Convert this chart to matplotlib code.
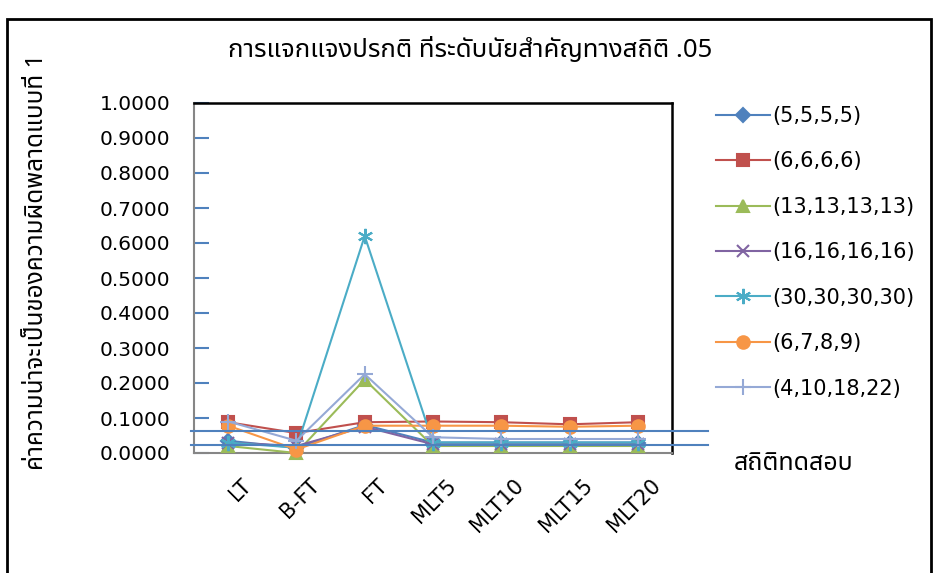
import matplotlib
matplotlib.use("Agg")
from matplotlib import pyplot as plt
from matplotlib.patches import Rectangle

THAI = ["Noto Sans Thai", "IBM Plex Sans Thai", "Sarabun", "DejaVu Sans"]

categories = ["LT", "B-FT", "FT", "MLT5", "MLT10", "MLT15", "MLT20"]
series_labels = [
    "(5,5,5,5)",
    "(6,6,6,6)",
    "(13,13,13,13)",
    "(16,16,16,16)",
    "(30,30,30,30)",
    "(6,7,8,9)",
    "(4,10,18,22)",
]
n5 = [0.035, 0.015, 0.080, 0.030, 0.030, 0.030, 0.030]
n6 = [0.088, 0.057, 0.088, 0.090, 0.088, 0.082, 0.088]
n13 = [0.020, 0.000, 0.210, 0.020, 0.020, 0.020, 0.020]
n16 = [0.030, 0.020, 0.075, 0.025, 0.025, 0.025, 0.025]
n30 = [0.030, 0.015, 0.620, 0.030, 0.030, 0.030, 0.030]
n6789 = [0.078, 0.010, 0.078, 0.078, 0.078, 0.075, 0.078]
n4_22 = [0.090, 0.035, 0.225, 0.045, 0.040, 0.040, 0.040]
bounds = [0.063, 0.022]
yticks = [i / 10 for i in range(11)]

colors = ["#4F81BD", "#C0504D", "#9BBB59", "#8064A2", "#4BACC6", "#F79646", "#95A9D6"]
markers = ["D", "s", "^", "x", (6, 2, 0), "o", "+"]
msizes = [7, 9, 8, 9, 11, 9, 12]

fig = plt.figure(figsize=(9.4, 5.73), dpi=100)
ax = fig.add_axes([194 / 940, 1 - 453 / 573, 478 / 940, 350 / 573])

x = range(len(categories))
for vals, lab, c, m, ms in zip(
    [n5, n6, n13, n16, n30, n6789, n4_22], series_labels, colors, markers, msizes
):
    ax.plot(x, vals, color=c, lw=1.5, marker=m, ms=ms, mec=c, mfc=c, mew=1.5,
            label=lab, clip_on=False, zorder=3)

# criterion lines run past the plot frame
for b in bounds:
    ax.plot([-0.55, 7.03], [b, b], color="#4F81BD", lw=1.5, clip_on=False, zorder=4)

ax.set_xlim(-0.5, len(categories) - 0.5)
ax.set_ylim(0, 1)
ax.set_yticks(yticks)
ax.set_yticklabels([f"{t:.4f}" for t in yticks], fontsize=14.5)
ax.tick_params(axis="y", direction="in", length=11, width=1.5, color="#4F81BD", pad=17)
ax.set_xticks(list(x))
ax.set_xticklabels([])
ax.tick_params(axis="x", length=0)

for i, cat in enumerate(categories):
    ax.annotate(cat, xy=(i, 0), xycoords="data", xytext=(9, -16),
                textcoords="offset points", rotation=45, ha="right", va="top",
                rotation_mode="anchor", fontsize=15)

for side in ("left", "bottom"):
    ax.spines[side].set_color("#868686")
    ax.spines[side].set_linewidth(1.5)
for side in ("top", "right"):
    ax.spines[side].set_color("black")
    ax.spines[side].set_linewidth(1.8)

fig.text(0.5, 1 - 50 / 573, "การแจกแจงปรกติ ที่ระดับนัยสำคัญทางสถิติ .05",
         ha="center", va="center", fontsize=18.5, family=THAI)
fig.text(37 / 940, 1 - 262 / 573, "ค่าความน่าจะเป็นของความผิดพลาดแบบที่ 1",
         rotation=90, ha="center", va="center", fontsize=17.5,
         fontweight="bold", family=THAI)
fig.text(794 / 940, 1 - 463 / 573, "สถิติทดสอบ", ha="center", va="center",
         fontsize=18, family=THAI)

ax.legend(loc="upper left", bbox_to_anchor=(716 / 940, 1 - 106 / 573),
          bbox_transform=fig.transFigure, frameon=False, fontsize=15,
          handlelength=2.6, handletextpad=0.1, labelspacing=1.22,
          borderaxespad=0, borderpad=0)

fig.patches.append(Rectangle((7 / 940, -0.1), 924 / 940, 1.1 - 19 / 573,
                             transform=fig.transFigure, fill=False,
                             edgecolor="black", lw=2))

fig.savefig("out.png")
